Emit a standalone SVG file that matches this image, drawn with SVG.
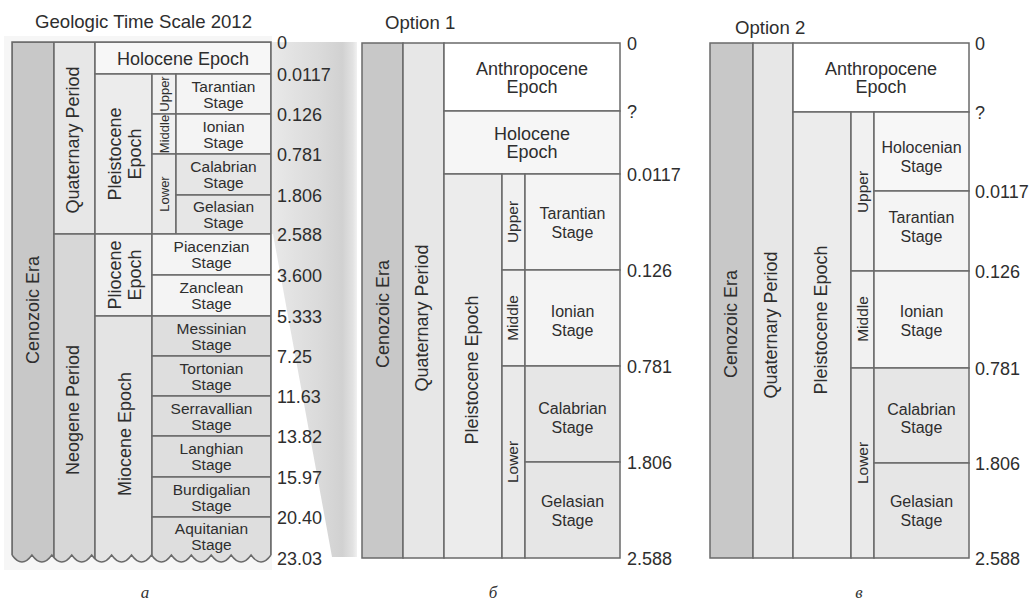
<svg xmlns="http://www.w3.org/2000/svg" width="1032" height="602" viewBox="0 0 1032 602">
<style>
.c{stroke:#6a6a6a;stroke-width:1.5}
.ln{stroke:#6a6a6a;stroke-width:1.5;fill:none}
text{font-family:"Liberation Sans",Arial,Helvetica,sans-serif;fill:#2e2e2e}
.num{font-size:18px}
.ttl{font-size:18.6px}
.big{font-size:18px;text-anchor:middle}
.st{font-size:15.5px;text-anchor:middle}
.st2{font-size:16px;text-anchor:middle}
.sm{font-size:13px;text-anchor:middle}
.sm2{font-size:15.5px;text-anchor:middle}
.lbl{font-family:"Liberation Serif","Times New Roman",serif;font-style:italic;font-size:17px;text-anchor:middle;fill:#333}
.era{fill:#c8c8c8}
.perQ{fill:#e7e7e7}
.perN{fill:#d7d7d7}
.ep{fill:#ececec}
.sub{fill:#f1f1f1}
.subL{fill:#eaeaea}
.stL{fill:#f4f4f4}
.stD{fill:#e6e6e6}
.stM{fill:#dedede}
</style>
<defs>
<clipPath id="wave">
<path d="M12,42 H271 V555 Q261.04,569 251.08,555 Q241.12,569 231.15,555 Q221.19,569 211.23,555 Q201.27,569 191.31,555 Q181.35,569 171.38,555 Q161.42,569 151.46,555 Q141.5,569 131.54,555 Q121.58,569 111.62,555 Q101.65,569 91.69,555 Q81.73,569 71.77,555 Q61.81,569 51.85,555 Q41.88,569 31.92,555 Q21.96,569 12,555 Z"/>
</clipPath>
<linearGradient id="wedgeG" gradientUnits="userSpaceOnUse" x1="271" y1="0" x2="360" y2="0">
<stop offset="0" stop-color="#e9e9e9"/>
<stop offset="0.55" stop-color="#dadada"/>
<stop offset="0.8" stop-color="#d1d1d1"/>
<stop offset="0.92" stop-color="#e2e2e2"/>
<stop offset="1" stop-color="#fcfcfc"/>
</linearGradient>
</defs>
<rect width="1032" height="602" fill="#ffffff"/>
<rect x="4" y="36" width="268" height="534" fill="#f6f6f6"/>

<g id="connectors">
<polygon points="271,42 357,42 357,557 332,557 273,234 271,234" fill="url(#wedgeG)"/>
</g>

<text class="ttl" x="35" y="28">Geologic Time Scale 2012</text>
<text class="ttl" x="385" y="29">Option 1</text>
<text class="ttl" x="735" y="34">Option 2</text>

<!-- Chart a -->
<g id="chart-a">
<g clip-path="url(#wave)">
<g id="a-era"><rect class="c era" x="12" y="42" width="42" height="530"/></g>
<g id="a-quaternary"><rect class="c perQ" x="54" y="42" width="41" height="192"/></g>
<g id="a-neogene"><rect class="c perN" x="54" y="234" width="41" height="338"/></g>
<g id="a-holocene"><rect class="c" fill="#f7f7f7" x="95" y="42" width="176" height="32"/></g>
<g id="a-pleistocene"><rect class="c ep" x="95" y="74" width="57" height="160"/></g>
<g id="a-upper"><rect class="c sub" x="152" y="74" width="24" height="40"/></g>
<g id="a-middle"><rect class="c sub" x="152" y="114" width="24" height="40"/></g>
<g id="a-lower"><rect class="c subL" x="152" y="154" width="24" height="80"/></g>
<g id="a-tarantian"><rect class="c stL" x="176" y="74" width="95" height="40"/></g>
<g id="a-ionian"><rect class="c stL" x="176" y="114" width="95" height="40"/></g>
<g id="a-calabrian"><rect class="c stD" x="176" y="154" width="95" height="41"/></g>
<g id="a-gelasian"><rect class="c stD" x="176" y="195" width="95" height="39"/></g>
<g id="a-pliocene"><rect class="c" fill="#efefef" x="95" y="234" width="57" height="82"/></g>
<g id="a-piacenzian"><rect class="c stL" x="152" y="234" width="119" height="41"/></g>
<g id="a-zanclean"><rect class="c stL" x="152" y="275" width="119" height="41"/></g>
<g id="a-miocene"><rect class="c" fill="#e4e4e4" x="95" y="316" width="57" height="256"/></g>
<g id="a-messinian"><rect class="c stM" x="152" y="316" width="119" height="40"/></g>
<g id="a-tortonian"><rect class="c stM" x="152" y="356" width="119" height="40"/></g>
<g id="a-serravallian"><rect class="c stM" x="152" y="396" width="119" height="40"/></g>
<g id="a-langhian"><rect class="c stM" x="152" y="436" width="119" height="41"/></g>
<g id="a-burdigalian"><rect class="c stM" x="152" y="477" width="119" height="40"/></g>
<g id="a-aquitanian"><rect class="c stM" x="152" y="517" width="119" height="55"/></g>
</g>
<path class="ln" d="M12,555 V42 H271 V555 M12,555 Q21.96,569 31.92,555 Q41.88,569 51.85,555 Q61.81,569 71.77,555 Q81.73,569 91.69,555 Q101.65,569 111.62,555 Q121.58,569 131.54,555 Q141.5,569 151.46,555 Q161.42,569 171.38,555 Q181.35,569 191.31,555 Q201.27,569 211.23,555 Q221.19,569 231.15,555 Q241.12,569 251.08,555 Q261.04,569 271,555"/>

<text class="big" transform="translate(32.5,310) rotate(-90)" dy="0.35em">Cenozoic Era</text>
<text class="big" transform="translate(73,140) rotate(-90)" dy="0.35em">Quaternary Period</text>
<text class="big" transform="translate(73,410) rotate(-90)" dy="0.35em">Neogene Period</text>
<text class="big" x="183" y="64.5">Holocene Epoch</text>
<text class="big" transform="translate(114.5,154) rotate(-90)" dy="0.35em">Pleistocene</text>
<text class="big" transform="translate(134.5,154) rotate(-90)" dy="0.35em">Epoch</text>
<text class="big" transform="translate(114.5,275) rotate(-90)" dy="0.35em">Pliocene</text>
<text class="big" transform="translate(134.5,275) rotate(-90)" dy="0.35em">Epoch</text>
<text class="big" transform="translate(124.5,434) rotate(-90)" dy="0.35em">Miocene Epoch</text>
<text class="sm" transform="translate(164.5,94) rotate(-90)" dy="0.35em">Upper</text>
<text class="sm" transform="translate(164.5,134) rotate(-90)" dy="0.35em">Middle</text>
<text class="sm" transform="translate(164.5,194) rotate(-90)" dy="0.35em">Lower</text>

<text class="st" x="223.5" y="91.5">Tarantian<tspan x="223.5" dy="16">Stage</tspan></text>
<text class="st" x="223.5" y="131.5">Ionian<tspan x="223.5" dy="16">Stage</tspan></text>
<text class="st" x="223.5" y="172">Calabrian<tspan x="223.5" dy="16">Stage</tspan></text>
<text class="st" x="223.5" y="212">Gelasian<tspan x="223.5" dy="16">Stage</tspan></text>
<text class="st" x="211.5" y="252">Piacenzian<tspan x="211.5" dy="16">Stage</tspan></text>
<text class="st" x="211.5" y="293">Zanclean<tspan x="211.5" dy="16">Stage</tspan></text>
<text class="st" x="211.5" y="333.5">Messinian<tspan x="211.5" dy="16">Stage</tspan></text>
<text class="st" x="211.5" y="373.5">Tortonian<tspan x="211.5" dy="16">Stage</tspan></text>
<text class="st" x="211.5" y="413.5">Serravallian<tspan x="211.5" dy="16">Stage</tspan></text>
<text class="st" x="211.5" y="454">Langhian<tspan x="211.5" dy="16">Stage</tspan></text>
<text class="st" x="211.5" y="494.5">Burdigalian<tspan x="211.5" dy="16">Stage</tspan></text>
<text class="st" x="211.5" y="533.5">Aquitanian<tspan x="211.5" dy="16">Stage</tspan></text>

<g>
<text class="num" x="277" y="48.5">0</text>
<text class="num" x="277" y="80.5">0.0117</text>
<text class="num" x="277" y="120.5">0.126</text>
<text class="num" x="277" y="160.5">0.781</text>
<text class="num" x="277" y="201.5">1.806</text>
<text class="num" x="277" y="240.5">2.588</text>
<text class="num" x="277" y="281.5">3.600</text>
<text class="num" x="277" y="322.5">5.333</text>
<text class="num" x="277" y="362.5">7.25</text>
<text class="num" x="277" y="402.5">11.63</text>
<text class="num" x="277" y="442.5">13.82</text>
<text class="num" x="277" y="483.5">15.97</text>
<text class="num" x="277" y="523.5">20.40</text>
<text class="num" x="277" y="565">23.03</text>
</g>
</g>

<!-- Option 1 -->
<g id="option-1">
<g id="o1-era"><rect class="c era" x="362" y="43" width="41" height="515"/>
<text class="big" transform="translate(382.5,314) rotate(-90)" dy="0.35em">Cenozoic Era</text></g>
<g id="o1-quaternary"><rect class="c perQ" x="403" y="43" width="41" height="515"/>
<text class="big" transform="translate(422,318) rotate(-90)" dy="0.35em">Quaternary Period</text></g>
<g id="o1-anthropocene"><rect class="c" fill="#ffffff" x="444" y="43" width="176" height="68"/>
<text class="big" x="532" y="74.5">Anthropocene<tspan x="532" dy="18">Epoch</tspan></text></g>
<g id="o1-holocene"><rect class="c" fill="#f6f6f6" x="444" y="111" width="176" height="63"/>
<text class="big" x="532" y="140">Holocene<tspan x="532" dy="18">Epoch</tspan></text></g>
<g id="o1-pleistocene"><rect class="c ep" x="444" y="174" width="58" height="384"/>
<text class="big" transform="translate(472,370) rotate(-90)" dy="0.35em">Pleistocene Epoch</text></g>
<g id="o1-upper"><rect class="c sub" x="502" y="174" width="23" height="96"/>
<text class="sm2" transform="translate(513,222) rotate(-90)" dy="0.35em">Upper</text></g>
<g id="o1-middle"><rect class="c sub" x="502" y="270" width="23" height="96"/>
<text class="sm2" transform="translate(513,318) rotate(-90)" dy="0.35em">Middle</text></g>
<g id="o1-lower"><rect class="c subL" x="502" y="366" width="23" height="192"/>
<text class="sm2" transform="translate(513,462) rotate(-90)" dy="0.35em">Lower</text></g>
<g id="o1-tarantian"><rect class="c stL" x="525" y="174" width="95" height="96"/>
<text class="st2" x="572.5" y="218.5">Tarantian<tspan x="572.5" dy="19">Stage</tspan></text></g>
<g id="o1-ionian"><rect class="c stL" x="525" y="270" width="95" height="96"/>
<text class="st2" x="572.5" y="317">Ionian<tspan x="572.5" dy="19">Stage</tspan></text></g>
<g id="o1-calabrian"><rect class="c stD" x="525" y="366" width="95" height="96"/>
<text class="st2" x="572.5" y="414">Calabrian<tspan x="572.5" dy="18.5">Stage</tspan></text></g>
<g id="o1-gelasian"><rect class="c stD" x="525" y="462" width="95" height="96"/>
<text class="st2" x="572.5" y="507">Gelasian<tspan x="572.5" dy="18.5">Stage</tspan></text></g>
<text class="num" x="627" y="49.5">0</text>
<text class="num" x="627" y="117.5">?</text>
<text class="num" x="627" y="180.5">0.0117</text>
<text class="num" x="627" y="276.5">0.126</text>
<text class="num" x="627" y="372.5">0.781</text>
<text class="num" x="627" y="468.5">1.806</text>
<text class="num" x="627" y="564.5">2.588</text>
</g>

<!-- Option 2 -->
<g id="option-2">
<g id="o2-era"><rect class="c era" x="710" y="43" width="43" height="515"/>
<text class="big" transform="translate(730.5,324) rotate(-90)" dy="0.35em">Cenozoic Era</text></g>
<g id="o2-quaternary"><rect class="c perQ" x="753" y="43" width="40" height="515"/>
<text class="big" transform="translate(771,325) rotate(-90)" dy="0.35em">Quaternary Period</text></g>
<g id="o2-anthropocene"><rect class="c" fill="#ffffff" x="793" y="43" width="176" height="69"/>
<text class="big" x="881" y="75">Anthropocene<tspan x="881" dy="18">Epoch</tspan></text></g>
<g id="o2-pleistocene"><rect class="c ep" x="793" y="112" width="58" height="446"/>
<text class="big" transform="translate(821,320) rotate(-90)" dy="0.35em">Pleistocene Epoch</text></g>
<g id="o2-upper"><rect class="c sub" x="851" y="112" width="23" height="159"/>
<text class="sm2" transform="translate(862.5,192) rotate(-90)" dy="0.35em">Upper</text></g>
<g id="o2-middle"><rect class="c sub" x="851" y="271" width="23" height="97"/>
<text class="sm2" transform="translate(862.5,319) rotate(-90)" dy="0.35em">Middle</text></g>
<g id="o2-lower"><rect class="c subL" x="851" y="368" width="23" height="190"/>
<text class="sm2" transform="translate(862.5,463) rotate(-90)" dy="0.35em">Lower</text></g>
<g id="o2-holocenian"><rect class="c" fill="#f7f7f7" x="874" y="112" width="95" height="79"/>
<text class="st2" x="921.5" y="153">Holocenian<tspan x="921.5" dy="19">Stage</tspan></text></g>
<g id="o2-tarantian"><rect class="c stL" x="874" y="191" width="95" height="80"/>
<text class="st2" x="921.5" y="223">Tarantian<tspan x="921.5" dy="18.5">Stage</tspan></text></g>
<g id="o2-ionian"><rect class="c stL" x="874" y="271" width="95" height="97"/>
<text class="st2" x="921.5" y="317">Ionian<tspan x="921.5" dy="18.5">Stage</tspan></text></g>
<g id="o2-calabrian"><rect class="c stD" x="874" y="368" width="95" height="95"/>
<text class="st2" x="921.5" y="415">Calabrian<tspan x="921.5" dy="18">Stage</tspan></text></g>
<g id="o2-gelasian"><rect class="c stD" x="874" y="463" width="95" height="95"/>
<text class="st2" x="921.5" y="507">Gelasian<tspan x="921.5" dy="18.5">Stage</tspan></text></g>
<text class="num" x="975" y="49.5">0</text>
<text class="num" x="975" y="118.5">?</text>
<text class="num" x="975" y="197.5">0.0117</text>
<text class="num" x="975" y="277.5">0.126</text>
<text class="num" x="975" y="374.5">0.781</text>
<text class="num" x="975" y="469.5">1.806</text>
<text class="num" x="975" y="564.5">2.588</text>
</g>

<text class="lbl" x="145" y="598">а</text>
<text class="lbl" x="493" y="598">б</text>
<text class="lbl" x="859" y="598">в</text>
</svg>
